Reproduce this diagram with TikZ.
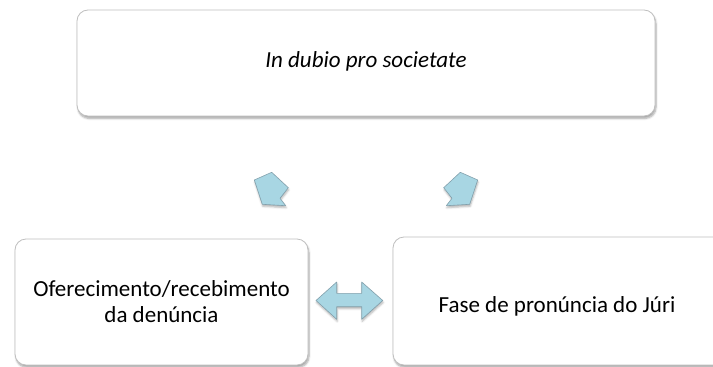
\documentclass[tikz,border=0pt]{standalone}
\usepackage{fontspec}
\setmainfont{Carlito}
\usetikzlibrary{shadows.blur}
\definecolor{boxline}{RGB}{191,191,191}
\definecolor{arrowfill}{RGB}{168,214,227}
\definecolor{arrowline}{RGB}{130,160,172}
\tikzset{
  card/.style={draw=boxline, line width=0.8pt, fill=white, rounded corners=11pt,
    blur shadow={shadow xshift=1pt, shadow yshift=-2.5pt, shadow blur steps=6, shadow opacity=35}},
  blockarrow/.style={draw=arrowline, line width=0.6pt, fill=arrowfill, line join=round,
    blur shadow={shadow xshift=0.5pt, shadow yshift=-2pt, shadow blur steps=4, shadow opacity=30}},
  label/.style={font=\fontsize{23}{25.5}\selectfont, text=black, inner sep=0pt, align=center}
}
\begin{document}
\begin{tikzpicture}[x=1pt,y=-1pt]
  \useasboundingbox (0,0) rectangle (713,367);
  \clip (0,0) rectangle (713,367);
  % boxes
  \draw[card] (77,10) rectangle (655,116);
  \draw[card] (15,239) rectangle (308,365);
  \draw[card] (393,237) rectangle (735,365);
  % texts
  \node[label, anchor=base] (top) at (366,67) {\itshape In dubio pro societate};
  \node[label] (left) at (161.5,301.5) {Oferecimento/recebimento\\da denúncia};
  \node[label, anchor=base] (right) at (557,312) {Fase de pronúncia do Júri};
  % diagonal block arrows
  \draw[blockarrow] (254.3,180) -- (271.7,172.3) -- (288.3,187.7) -- (280,198.3)
    -- (285.7,205.7) -- (262.3,204.3) -- cycle;
  \draw[blockarrow] (477.7,180) -- (460.3,172.3) -- (443.7,187.7) -- (452,198.3)
    -- (446.3,205.7) -- (469.7,204.3) -- cycle;
  % double arrow
  \draw[blockarrow] (316,300.5) -- (336.7,282) -- (336.7,293.3) -- (361.7,293.3)
    -- (361.7,282) -- (382.7,300.5) -- (361.7,319.3) -- (361.7,306.7)
    -- (336.7,306.7) -- (336.7,319.3) -- cycle;
\end{tikzpicture}
\end{document}
